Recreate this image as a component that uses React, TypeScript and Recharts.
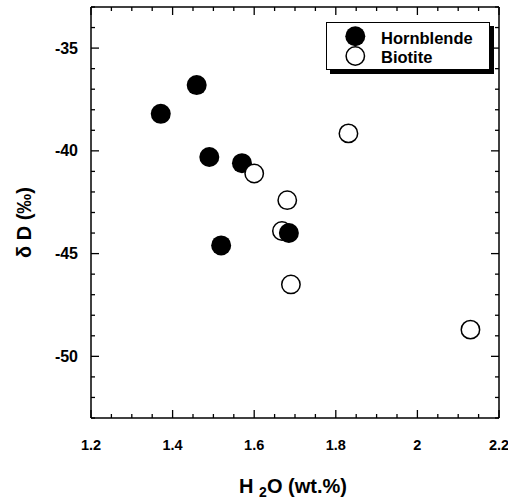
import React from 'react';
import { ScatterChart, Scatter, XAxis, YAxis, Legend, ReferenceLine } from 'recharts';

const hornblende = [
  { x: 1.371, y: -38.2 },
  { x: 1.459, y: -36.8 },
  { x: 1.49, y: -40.3 },
  { x: 1.57, y: -40.6 },
  { x: 1.519, y: -44.6 },
];
const hornblendeFront = [{ x: 1.685, y: -44.0 }];
const biotite = [
  { x: 1.6, y: -41.1 },
  { x: 1.681, y: -42.4 },
  { x: 1.668, y: -43.9 },
  { x: 1.69, y: -46.5 },
  { x: 1.831, y: -39.15 },
  { x: 2.13, y: -48.7 },
];

const xTicks = [
  1.2, 1.25, 1.3, 1.35, 1.4, 1.45, 1.5, 1.55, 1.6, 1.65, 1.7,
  1.75, 1.8, 1.85, 1.9, 1.95, 2.0, 2.05, 2.1, 2.15, 2.2,
];
const xLabels = [1.2, 1.4, 1.6, 1.8, 2, 2.2];
const yTicks = [
  -53, -52, -51, -50, -49, -48, -47, -46, -45, -44, -43,
  -42, -41, -40, -39, -38, -37, -36, -35, -34, -33,
];
const yLabels = [-50, -45, -40, -35];
const legendOrder = ['Hornblende', 'Biotite'];

// single series, drawing order: hornblende, biotite, then the front hornblende point
const allPoints = [
  ...hornblende.map((d) => ({ ...d, kind: 'Hornblende' })),
  ...biotite.map((d) => ({ ...d, kind: 'Biotite' })),
  ...hornblendeFront.map((d) => ({ ...d, kind: 'Hornblende' })),
];

const FONT = 'Arial, Liberation Sans, Helvetica, sans-serif';
const isIn = (v: number, list: number[]) => list.some((l) => Math.abs(l - v) < 1e-6);

const BottomTick = (p: any) => {
  const { x, y, payload } = p;
  const major = isIn(payload.value, xLabels);
  return (
    <g>
      <line x1={x} x2={x} y1={y} y2={y - (major ? 8 : 4)} stroke="#000" strokeWidth={1.3} />
      {major && (
        <text x={x} y={y + 32} textAnchor="middle" fontFamily={FONT} fontWeight="bold" fontSize={14.5} fill="#000">
          {String(payload.value)}
        </text>
      )}
    </g>
  );
};

const LeftTick = (p: any) => {
  const { x, y, payload } = p;
  const major = isIn(payload.value, yLabels);
  return (
    <g>
      <line x1={x} x2={x + (major ? 8 : 4)} y1={y} y2={y} stroke="#000" strokeWidth={1.3} />
      {major && (
        <text x={x - 13} y={y + 5.5} textAnchor="end" fontFamily={FONT} fontWeight="bold" fontSize={16} fill="#000">
          {String(payload.value)}
        </text>
      )}
    </g>
  );
};

const makeTopMark = (major: boolean) => (p: any) => {
  const top = Math.min(p.y1, p.y2);
  return <line x1={p.x1} x2={p.x1} y1={top} y2={top + (major ? 8 : 4)} stroke="#000" strokeWidth={1.3} />;
};

const makeRightMark = (major: boolean) => (p: any) => {
  const right = Math.max(p.x1, p.x2);
  return <line x1={right} x2={right - (major ? 8 : 4)} y1={p.y1} y2={p.y1} stroke="#000" strokeWidth={1.3} />;
};

const XTitle = (props: any) => {
  const vb = props.viewBox;
  const cx = vb.x + vb.width / 2 - 2;
  return (
    <text x={cx} y={vb.y + 75} textAnchor="middle" fontFamily={FONT} fontWeight="bold" fontSize={20} fill="#000">
      <tspan>H </tspan>
      <tspan fontSize={14} dy={4}>2</tspan>
      <tspan dy={-4}>O (wt.%)</tspan>
    </text>
  );
};

const YTitle = (props: any) => {
  const vb = props.viewBox;
  const cy = vb.y + vb.height / 2 + 10;
  const bx = 31;
  return (
    <text
      x={bx}
      y={cy}
      transform={`rotate(-90, ${bx}, ${cy})`}
      textAnchor="middle"
      fontFamily={FONT}
      fontWeight="bold"
      fontSize={20}
      fill="#000"
    >
      δ D (‰)
    </text>
  );
};

const PointShape = (p: any) => {
  const kind = p.kind ?? (p.payload && p.payload.kind);
  return kind === 'Biotite' ? (
    <circle cx={p.cx} cy={p.cy} r={9.2} fill="#fff" stroke="#000" strokeWidth={1.5} />
  ) : (
    <circle cx={p.cx} cy={p.cy} r={10} fill="#000" />
  );
};

const LegendBox = () => (
  <div
    style={{
      position: 'relative',
      width: 164,
      height: 48,
      border: '1.5px solid #000',
      boxSizing: 'border-box',
      background: '#fff',
      boxShadow: '4px 4px 0 0 #000',
    }}
  >
    <svg width={164} height={48} style={{ position: 'absolute', left: -1.5, top: -1.5, overflow: 'visible' }}>
      {legendOrder
        .map((name, i) => ({ name, i }))
        .reverse()
        .map(({ name, i }) => {
          const cy = 15.3 + i * 19.7;
          return name === 'Hornblende' ? (
            <circle key={'c' + i} cx={29.3} cy={cy} r={10} fill="#000" />
          ) : (
            <circle key={'c' + i} cx={29.3} cy={cy} r={9.2} fill="#fff" stroke="#000" strokeWidth={1.5} />
          );
        })}
      {legendOrder.map((name, i) => (
        <text key={'t' + i} x={55} y={23.3 + i * 18.3} fontFamily={FONT} fontWeight="bold" fontSize={16.5} fill="#000">
          {name}
        </text>
      ))}
    </svg>
  </div>
);

export default function App() {
  return (
    <div style={{ position: 'absolute', left: 0, top: 0 }}>
      <ScatterChart width={508} height={501} margin={{ top: 7, right: 9, bottom: 0, left: 0 }}>
        <XAxis
          xAxisId="b"
          dataKey="x"
          type="number"
          domain={[1.2, 2.2]}
          ticks={xTicks}
          interval={0}
          tick={BottomTick}
          tickLine={false}
          tickSize={0}
          tickMargin={0}
          height={83}
          axisLine={{ stroke: '#000', strokeWidth: 1.5 }}
          label={XTitle}
        />
        <YAxis
          yAxisId="l"
          dataKey="y"
          type="number"
          domain={[-53, -33]}
          ticks={yTicks}
          interval={0}
          tick={LeftTick}
          tickLine={false}
          tickSize={0}
          tickMargin={0}
          width={91}
          axisLine={{ stroke: '#000', strokeWidth: 1.5 }}
          label={YTitle}
        />
        <ReferenceLine y={-33} xAxisId="b" yAxisId="l" stroke="#000" strokeWidth={1.5} />
        <ReferenceLine x={2.2} xAxisId="b" yAxisId="l" stroke="#000" strokeWidth={1.5} />
        {xTicks.map((v) => (
          <ReferenceLine key={'xr' + v} x={v} xAxisId="b" yAxisId="l" stroke="#000" shape={makeTopMark(isIn(v, xLabels))} />
        ))}
        {yTicks.map((v) => (
          <ReferenceLine key={'yr' + v} y={v} xAxisId="b" yAxisId="l" stroke="#000" shape={makeRightMark(isIn(v, yLabels))} />
        ))}
        <Legend
          layout="horizontal"
          verticalAlign="middle"
          align="center"
          content={LegendBox}
          wrapperStyle={{ left: 326, top: 21.7, width: 170, height: 54 }}
        />
        <Scatter
          name="Samples"
          data={allPoints}
          xAxisId="b"
          yAxisId="l"
          shape={PointShape}
          isAnimationActive={false}
        />
      </ScatterChart>
    </div>
  );
}
